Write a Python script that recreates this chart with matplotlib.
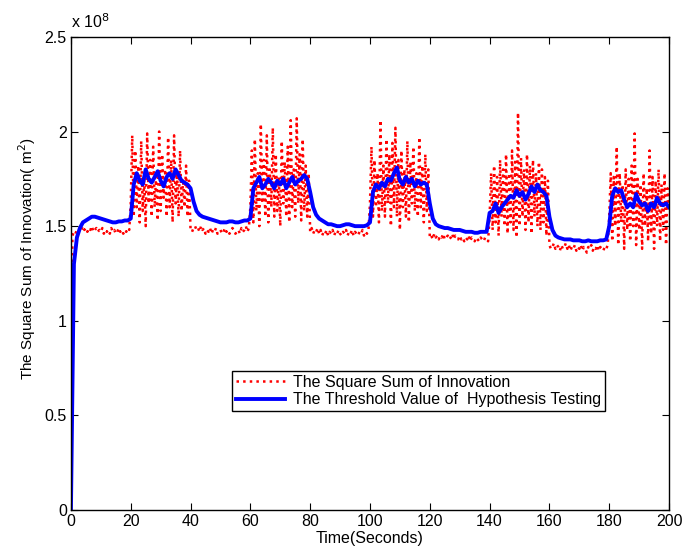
import numpy as np
import matplotlib
matplotlib.use("Agg")
import matplotlib.pyplot as plt

plt.rcParams['font.family'] = ['Liberation Sans', 'DejaVu Sans']

# Square sum of innovation (x1e8), sampled every 0.5 s
red_t = np.arange(0, 200.01, 0.5)
red_vals = [
    0.75, 1.45, 1.47, 1.46, 1.48, 1.47, 1.49, 1.48, 1.50, 1.48, 1.49, 1.47, 1.49, 1.48, 1.50, 1.47, 1.48, 1.49, 1.47, 1.48,
    1.47, 1.49, 1.46, 1.48, 1.47, 1.48, 1.46, 1.49, 1.47, 1.48, 1.46, 1.47, 1.49, 1.47, 1.48, 1.46, 1.48, 1.47, 1.49, 1.48,
    1.62, 1.98, 1.55, 1.90, 1.60, 1.82, 1.52, 1.95, 1.58, 1.75, 1.50, 1.99, 1.62, 1.85, 1.55, 1.92, 1.60, 1.78, 1.53, 2.00,
    1.58, 1.88, 1.65, 1.80, 1.55, 1.97, 1.60, 1.85, 1.52, 1.98, 1.62, 1.78, 1.55, 1.90, 1.58, 1.75, 1.60, 1.82, 1.55, 1.74,
    1.48, 1.47, 1.49, 1.50, 1.48, 1.49, 1.47, 1.50, 1.48, 1.49, 1.46, 1.48, 1.47, 1.49, 1.46, 1.48, 1.47, 1.49, 1.46, 1.47,
    1.48, 1.46, 1.47, 1.49, 1.47, 1.48, 1.46, 1.47, 1.49, 1.48, 1.46, 1.47, 1.48, 1.46, 1.49, 1.47, 1.48, 1.50, 1.47, 1.49,
    1.60, 1.90, 1.52, 1.96, 1.58, 1.78, 1.50, 2.04, 1.62, 1.85, 1.55, 1.98, 1.52, 1.80, 1.60, 2.02, 1.55, 1.88, 1.58, 1.76,
    1.50, 1.95, 1.62, 1.84, 1.55, 1.92, 1.52, 2.06, 1.60, 1.80, 1.55, 2.07, 1.62, 1.88, 1.53, 1.96, 1.58, 1.82, 1.55, 1.78,
    1.47, 1.49, 1.46, 1.48, 1.47, 1.49, 1.46, 1.48, 1.45, 1.47, 1.46, 1.48, 1.45, 1.47, 1.46, 1.48, 1.45, 1.47, 1.46, 1.48,
    1.46, 1.45, 1.47, 1.46, 1.48, 1.45, 1.47, 1.46, 1.48, 1.45, 1.47, 1.46, 1.45, 1.47, 1.46, 1.48, 1.45, 1.47, 1.46, 1.48,
    1.62, 1.92, 1.55, 1.85, 1.60, 1.78, 1.52, 2.06, 1.58, 1.82, 1.55, 1.96, 1.62, 1.88, 1.50, 1.94, 1.60, 2.02, 1.55, 1.85,
    1.48, 1.90, 1.60, 1.80, 1.55, 1.95, 1.52, 1.84, 1.62, 1.92, 1.58, 1.78, 1.55, 1.97, 1.60, 1.82, 1.52, 1.88, 1.58, 1.80,
    1.44, 1.45, 1.43, 1.46, 1.44, 1.45, 1.43, 1.45, 1.44, 1.46, 1.43, 1.44, 1.45, 1.43, 1.44, 1.46, 1.43, 1.45, 1.44, 1.43,
    1.45, 1.43, 1.44, 1.42, 1.44, 1.43, 1.45, 1.42, 1.44, 1.43, 1.42, 1.44, 1.43, 1.42, 1.44, 1.43, 1.42, 1.44, 1.43, 1.42,
    1.55, 1.78, 1.48, 1.82, 1.52, 1.76, 1.45, 1.85, 1.55, 1.80, 1.50, 1.88, 1.46, 1.78, 1.52, 1.90, 1.48, 1.84, 1.44, 2.10,
    1.50, 1.86, 1.55, 1.80, 1.48, 1.88, 1.52, 1.82, 1.46, 1.85, 1.55, 1.78, 1.50, 1.84, 1.48, 1.80, 1.52, 1.76, 1.45, 1.74,
    1.40, 1.38, 1.39, 1.41, 1.38, 1.40, 1.39, 1.37, 1.40, 1.38, 1.39, 1.41, 1.38, 1.40, 1.37, 1.39, 1.38, 1.40, 1.37, 1.39,
    1.38, 1.40, 1.37, 1.39, 1.38, 1.36, 1.39, 1.38, 1.40, 1.37, 1.39, 1.38, 1.40, 1.37, 1.39, 1.38, 1.37, 1.39, 1.38, 1.40,
    1.55, 1.78, 1.42, 1.76, 1.50, 1.92, 1.40, 1.78, 1.52, 1.72, 1.38, 1.80, 1.48, 1.75, 1.42, 1.82, 1.50, 1.99, 1.40, 1.75,
    1.48, 1.72, 1.38, 1.78, 1.50, 1.70, 1.42, 1.90, 1.46, 1.76, 1.38, 1.74, 1.50, 1.80, 1.42, 1.72, 1.48, 1.78, 1.40, 1.70,
    1.62,
]

# Threshold value of hypothesis testing (x1e8), sampled every 1 s
blue_t = np.arange(0, 201, 1)
blue_vals = [
    0.00, 1.30, 1.44, 1.49, 1.52, 1.53, 1.54, 1.55, 1.55, 1.545,
    1.54, 1.535, 1.53, 1.525, 1.52, 1.52, 1.525, 1.525, 1.53, 1.53,
    1.54, 1.72, 1.78, 1.74, 1.72, 1.80, 1.75, 1.73, 1.76, 1.79,
    1.74, 1.71, 1.76, 1.78, 1.75, 1.80, 1.77, 1.74, 1.73, 1.72,
    1.70, 1.63, 1.58, 1.56, 1.55, 1.545, 1.54, 1.535, 1.53, 1.525,
    1.52, 1.52, 1.52, 1.525, 1.525, 1.52, 1.52, 1.525, 1.53, 1.53,
    1.54, 1.70, 1.73, 1.76, 1.70, 1.72, 1.75, 1.73, 1.70, 1.74,
    1.72, 1.75, 1.70, 1.73, 1.76, 1.72, 1.74, 1.75, 1.77, 1.75,
    1.68, 1.60, 1.56, 1.54, 1.53, 1.52, 1.51, 1.51, 1.505, 1.50,
    1.50, 1.505, 1.51, 1.51, 1.505, 1.50, 1.50, 1.50, 1.50, 1.505,
    1.52, 1.68, 1.72, 1.70, 1.73, 1.71, 1.75, 1.74, 1.78, 1.81,
    1.74, 1.72, 1.76, 1.73, 1.75, 1.71, 1.74, 1.72, 1.73, 1.72,
    1.62, 1.54, 1.51, 1.50, 1.495, 1.49, 1.49, 1.485, 1.48, 1.48,
    1.48, 1.475, 1.47, 1.47, 1.47, 1.465, 1.465, 1.47, 1.47, 1.47,
    1.57, 1.58, 1.62, 1.57, 1.60, 1.62, 1.64, 1.66, 1.65, 1.69,
    1.66, 1.68, 1.64, 1.67, 1.71, 1.68, 1.72, 1.69, 1.68, 1.66,
    1.55, 1.48, 1.45, 1.44, 1.435, 1.43, 1.43, 1.43, 1.425, 1.425,
    1.425, 1.42, 1.42, 1.425, 1.42, 1.42, 1.42, 1.425, 1.425, 1.43,
    1.50, 1.66, 1.70, 1.68, 1.69, 1.64, 1.60, 1.62, 1.60, 1.67,
    1.63, 1.61, 1.62, 1.58, 1.62, 1.60, 1.65, 1.62, 1.61, 1.62,
    1.60,
]

x_ticks = [0, 20, 40, 60, 80, 100, 120, 140, 160, 180, 200]
y_ticks = [0, 0.5, 1, 1.5, 2, 2.5]
y_ticklabels = ['0', '0.5', '1', '1.5', '2', '2.5']
red_label = 'The Square Sum of Innovation'
blue_label = 'The Threshold Value of  Hypothesis Testing'

FS = 11.5

fig = plt.figure(figsize=(6.82, 5.51), dpi=100)
ax = fig.add_axes([0.104, 0.0744, 0.877, 0.8586])

ax.plot(red_t, red_vals, color='red', linestyle=':', linewidth=1.8, label=red_label)
ax.plot(blue_t, blue_vals, color='blue', linestyle='-', linewidth=2.8, label=blue_label)

ax.set_xlim(0, 200)
ax.set_ylim(0, 2.5)
ax.set_xticks(x_ticks)
ax.set_yticks(y_ticks)
ax.set_yticklabels(y_ticklabels)
ax.tick_params(direction='in', length=5, top=True, right=True, labelsize=FS, width=0.8, pad=3)
for s in ax.spines.values():
    s.set_linewidth(1.0)

ax.set_xlabel('Time(Seconds)', fontsize=FS, labelpad=1)
ax.set_ylabel('The Square Sum of Innovation( m$^2$)', fontsize=11)
ax.yaxis.set_label_coords(-0.055, 0.53)
ax.text(0.0, 1.012, r'x 10$^{8}$', transform=ax.transAxes, fontsize=FS, ha='left', va='bottom')

leg = ax.legend(loc='lower left', bbox_to_anchor=(0.269, 0.209), borderaxespad=0,
                fancybox=False, edgecolor='black', framealpha=1, fontsize=FS,
                handlelength=3.1, borderpad=0.25, labelspacing=0.15, handletextpad=0.45)
leg.get_frame().set_linewidth(1.0)

fig.savefig('out.png', dpi=100)
